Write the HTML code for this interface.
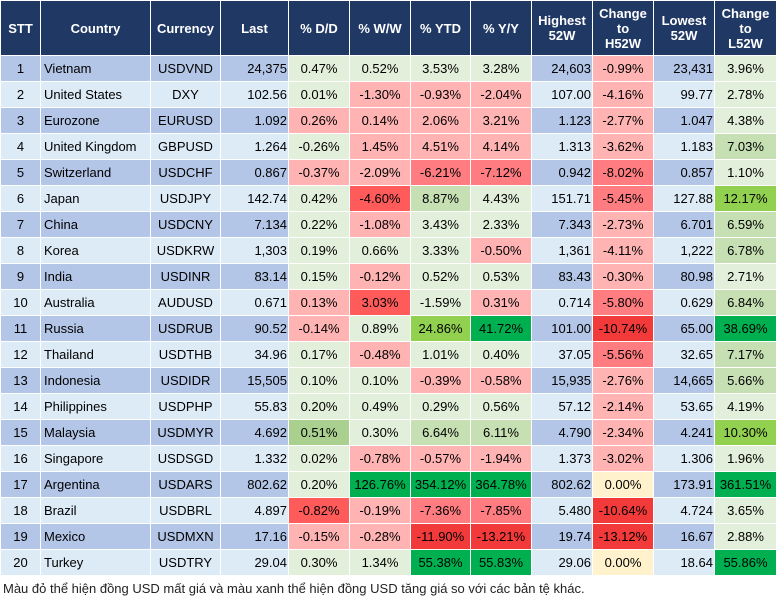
<!DOCTYPE html>
<html><head><meta charset="utf-8"><style>
body{margin:0;background:#fff;width:777px;height:602px;overflow:hidden;font-family:"Liberation Sans",Arial,sans-serif;}
table{border-collapse:separate;border-spacing:1px;position:absolute;left:0;top:0;table-layout:fixed;}
td,th{padding:0;font-size:13px;color:#000;white-space:nowrap;overflow:hidden}
th{background:#203864;color:#fff;font-weight:bold;height:54px;text-align:center;line-height:15px}
td{height:25px;text-align:center}
tr.o td{background:#B4C6E7}tr.e td{background:#DDEBF7}
td.l{text-align:left;padding-left:3px}
td.r{text-align:right;padding-right:1px}
tr td.lg{background:#E2EFDA}tr td.mg{background:#C6E0B4}tr td.dg{background:#A9D08E}tr td.li{background:#92D050}tr td.g{background:#00B050}
tr td.pk{background:#FFB3B3}tr td.sa{background:#FF7C80}tr td.rd{background:#FF5B5B}tr td.dr{background:#F23A3A}tr td.yl{background:#FFF2CC}
.note{position:absolute;left:3px;top:581px;font-size:13px;color:#222}
</style></head><body>
<table>
<colgroup><col style="width:39px"><col style="width:109px"><col style="width:69px"><col style="width:67px"><col style="width:60px"><col style="width:60px"><col style="width:59px"><col style="width:60px"><col style="width:60px"><col style="width:60px"><col style="width:60px"><col style="width:61px"></colgroup>
<tr><th>STT</th><th>Country</th><th>Currency</th><th>Last</th><th>% D/D</th><th>% W/W</th><th>% YTD</th><th>% Y/Y</th><th>Highest<br>52W</th><th>Change<br>to<br>H52W</th><th>Lowest<br>52W</th><th>Change<br>to<br>L52W</th></tr>
<tr class="o"><td>1</td><td class="l">Vietnam</td><td>USDVND</td><td class="r">24,375</td><td class="lg">0.47%</td><td class="lg">0.52%</td><td class="lg">3.53%</td><td class="lg">3.28%</td><td class="r">24,603</td><td class="pk">-0.99%</td><td class="r">23,431</td><td class="lg">3.96%</td></tr>
<tr class="e"><td>2</td><td class="l">United States</td><td>DXY</td><td class="r">102.56</td><td class="lg">0.01%</td><td class="pk">-1.30%</td><td class="pk">-0.93%</td><td class="pk">-2.04%</td><td class="r">107.00</td><td class="pk">-4.16%</td><td class="r">99.77</td><td class="lg">2.78%</td></tr>
<tr class="o"><td>3</td><td class="l">Eurozone</td><td>EURUSD</td><td class="r">1.092</td><td class="pk">0.26%</td><td class="pk">0.14%</td><td class="pk">2.06%</td><td class="pk">3.21%</td><td class="r">1.123</td><td class="pk">-2.77%</td><td class="r">1.047</td><td class="lg">4.38%</td></tr>
<tr class="e"><td>4</td><td class="l">United Kingdom</td><td>GBPUSD</td><td class="r">1.264</td><td class="lg">-0.26%</td><td class="pk">1.45%</td><td class="pk">4.51%</td><td class="pk">4.14%</td><td class="r">1.313</td><td class="pk">-3.62%</td><td class="r">1.183</td><td class="mg">7.03%</td></tr>
<tr class="o"><td>5</td><td class="l">Switzerland</td><td>USDCHF</td><td class="r">0.867</td><td class="pk">-0.37%</td><td class="pk">-2.09%</td><td class="sa">-6.21%</td><td class="sa">-7.12%</td><td class="r">0.942</td><td class="sa">-8.02%</td><td class="r">0.857</td><td class="lg">1.10%</td></tr>
<tr class="e"><td>6</td><td class="l">Japan</td><td>USDJPY</td><td class="r">142.74</td><td class="lg">0.42%</td><td class="rd">-4.60%</td><td class="mg">8.87%</td><td class="lg">4.43%</td><td class="r">151.71</td><td class="sa">-5.45%</td><td class="r">127.88</td><td class="li">12.17%</td></tr>
<tr class="o"><td>7</td><td class="l">China</td><td>USDCNY</td><td class="r">7.134</td><td class="lg">0.22%</td><td class="pk">-1.08%</td><td class="lg">3.43%</td><td class="lg">2.33%</td><td class="r">7.343</td><td class="pk">-2.73%</td><td class="r">6.701</td><td class="mg">6.59%</td></tr>
<tr class="e"><td>8</td><td class="l">Korea</td><td>USDKRW</td><td class="r">1,303</td><td class="lg">0.19%</td><td class="lg">0.66%</td><td class="lg">3.33%</td><td class="pk">-0.50%</td><td class="r">1,361</td><td class="pk">-4.11%</td><td class="r">1,222</td><td class="mg">6.78%</td></tr>
<tr class="o"><td>9</td><td class="l">India</td><td>USDINR</td><td class="r">83.14</td><td class="lg">0.15%</td><td class="pk">-0.12%</td><td class="lg">0.52%</td><td class="lg">0.53%</td><td class="r">83.43</td><td class="pk">-0.30%</td><td class="r">80.98</td><td class="lg">2.71%</td></tr>
<tr class="e"><td>10</td><td class="l">Australia</td><td>AUDUSD</td><td class="r">0.671</td><td class="pk">0.13%</td><td class="rd">3.03%</td><td class="lg">-1.59%</td><td class="pk">0.31%</td><td class="r">0.714</td><td class="sa">-5.80%</td><td class="r">0.629</td><td class="mg">6.84%</td></tr>
<tr class="o"><td>11</td><td class="l">Russia</td><td>USDRUB</td><td class="r">90.52</td><td class="pk">-0.14%</td><td class="lg">0.89%</td><td class="li">24.86%</td><td class="g">41.72%</td><td class="r">101.00</td><td class="dr">-10.74%</td><td class="r">65.00</td><td class="g">38.69%</td></tr>
<tr class="e"><td>12</td><td class="l">Thailand</td><td>USDTHB</td><td class="r">34.96</td><td class="lg">0.17%</td><td class="pk">-0.48%</td><td class="lg">1.01%</td><td class="lg">0.40%</td><td class="r">37.05</td><td class="sa">-5.56%</td><td class="r">32.65</td><td class="mg">7.17%</td></tr>
<tr class="o"><td>13</td><td class="l">Indonesia</td><td>USDIDR</td><td class="r">15,505</td><td class="lg">0.10%</td><td class="lg">0.10%</td><td class="pk">-0.39%</td><td class="pk">-0.58%</td><td class="r">15,935</td><td class="pk">-2.76%</td><td class="r">14,665</td><td class="mg">5.66%</td></tr>
<tr class="e"><td>14</td><td class="l">Philippines</td><td>USDPHP</td><td class="r">55.83</td><td class="lg">0.20%</td><td class="lg">0.49%</td><td class="lg">0.29%</td><td class="lg">0.56%</td><td class="r">57.12</td><td class="pk">-2.14%</td><td class="r">53.65</td><td class="lg">4.19%</td></tr>
<tr class="o"><td>15</td><td class="l">Malaysia</td><td>USDMYR</td><td class="r">4.692</td><td class="dg">0.51%</td><td class="lg">0.30%</td><td class="mg">6.64%</td><td class="mg">6.11%</td><td class="r">4.790</td><td class="pk">-2.34%</td><td class="r">4.241</td><td class="li">10.30%</td></tr>
<tr class="e"><td>16</td><td class="l">Singapore</td><td>USDSGD</td><td class="r">1.332</td><td class="lg">0.02%</td><td class="pk">-0.78%</td><td class="pk">-0.57%</td><td class="pk">-1.94%</td><td class="r">1.373</td><td class="pk">-3.02%</td><td class="r">1.306</td><td class="lg">1.96%</td></tr>
<tr class="o"><td>17</td><td class="l">Argentina</td><td>USDARS</td><td class="r">802.62</td><td class="lg">0.20%</td><td class="g">126.76%</td><td class="g">354.12%</td><td class="g">364.78%</td><td class="r">802.62</td><td class="yl">0.00%</td><td class="r">173.91</td><td class="g">361.51%</td></tr>
<tr class="e"><td>18</td><td class="l">Brazil</td><td>USDBRL</td><td class="r">4.897</td><td class="rd">-0.82%</td><td class="pk">-0.19%</td><td class="sa">-7.36%</td><td class="sa">-7.85%</td><td class="r">5.480</td><td class="dr">-10.64%</td><td class="r">4.724</td><td class="lg">3.65%</td></tr>
<tr class="o"><td>19</td><td class="l">Mexico</td><td>USDMXN</td><td class="r">17.16</td><td class="pk">-0.15%</td><td class="pk">-0.28%</td><td class="dr">-11.90%</td><td class="dr">-13.21%</td><td class="r">19.74</td><td class="dr">-13.12%</td><td class="r">16.67</td><td class="lg">2.88%</td></tr>
<tr class="e"><td>20</td><td class="l">Turkey</td><td>USDTRY</td><td class="r">29.04</td><td class="lg">0.30%</td><td class="lg">1.34%</td><td class="g">55.38%</td><td class="g">55.83%</td><td class="r">29.06</td><td class="yl">0.00%</td><td class="r">18.64</td><td class="g">55.86%</td></tr>
</table>
<div class="note">Màu đỏ thể hiện đồng USD mất giá và màu xanh thể hiện đồng USD tăng giá so với các bản tệ khác.</div>
</body></html>
